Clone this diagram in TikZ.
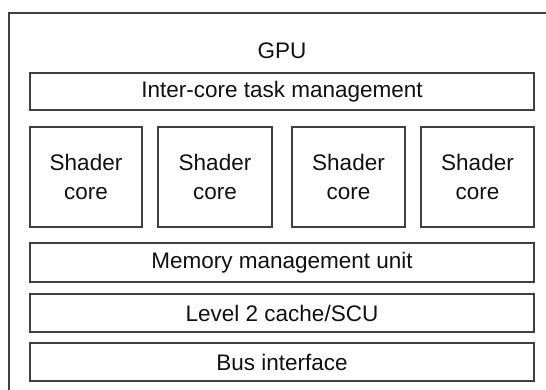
\documentclass[tikz,border=0pt]{standalone}
\usepackage{fontspec}
\setmainfont{Liberation Sans}
\definecolor{edge}{HTML}{404040}
\definecolor{ink}{HTML}{111111}
\begin{document}
\begin{tikzpicture}[x=1pt,y=-1pt,
  unitbox/.style={draw=edge, line width=1.2pt, fill=white, inner sep=0pt,
    text=ink, font=\fontsize{22.5}{29}\selectfont, align=center},
  label/.style={text=ink, font=\fontsize{22.5}{29}\selectfont, inner sep=0pt}]
\useasboundingbox (0,0) rectangle (546,390);
\clip (0,0) rectangle (546,390);
% GPU enclosure (runs past the right and bottom edges)
\draw[edge, line width=1.2pt] (9,13) rectangle (570,410);
\node[label] (gpu) at (282,51) {GPU};
% full-width blocks
\node[unitbox, minimum width=504pt, minimum height=37pt] (task) at (282,91.5) {Inter-core task management};
\node[unitbox, minimum width=504pt, minimum height=39pt] (mmu) at (282,262.5) {Memory management unit};
\node[unitbox, minimum width=504pt, minimum height=38pt] (l2) at (282,313) {Level 2 cache/SCU};
\node[unitbox, minimum width=504pt, minimum height=38pt] (bus) at (282,362) {Bus interface};
% shader cores
\node[unitbox, minimum width=112pt, minimum height=100pt] (sc1) at (86,177) {Shader\\core};
\node[unitbox, minimum width=114pt, minimum height=100pt] (sc2) at (215,177) {Shader\\core};
\node[unitbox, minimum width=113pt, minimum height=100pt] (sc3) at (348.5,177) {Shader\\core};
\node[unitbox, minimum width=113pt, minimum height=100pt] (sc4) at (477.5,177) {Shader\\core};
\end{tikzpicture}
\end{document}
